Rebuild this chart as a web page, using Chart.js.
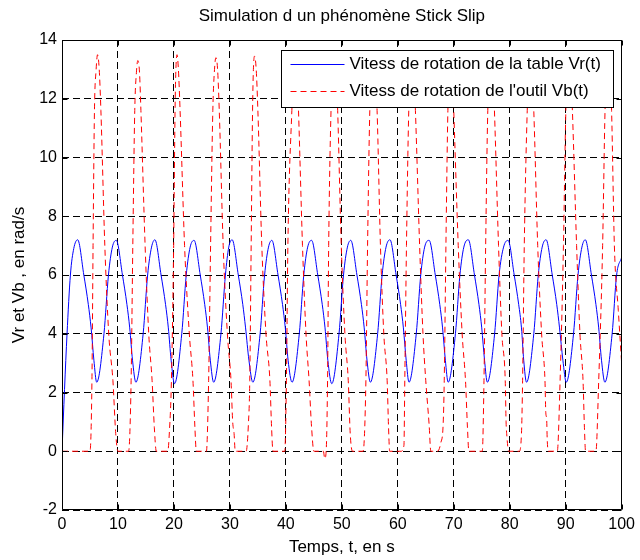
<!DOCTYPE html>
<html>
<head>
<meta charset="utf-8">
<title>Simulation d un phénomène Stick Slip</title>
<script src="https://cdn.jsdelivr.net/npm/chart.js@4.4.0/dist/chart.umd.min.js"></script>
<style>
  html, body { margin: 0; padding: 0; background: #fff; }
  #wrap { width: 640px; height: 560px; }
</style>
</head>
<body>
<div id="wrap"><canvas id="stickSlipChart" width="640" height="560"></canvas></div>
<script>
// values (t in s, speeds in rad/s)
const chartTitle = 'Simulation d un phénomène Stick Slip';
const xAxisTitle = 'Temps, t, en s';
const yAxisTitle = 'Vr et Vb , en rad/s';
const seriesLabels = ['Vitess de rotation de la table Vr(t)', "Vitess de rotation de l'outil Vb(t)"];
const xTickValues = [0, 10, 20, 30, 40, 50, 60, 70, 80, 90, 100];
const yTickValues = [-2, 0, 2, 4, 6, 8, 10, 12, 14];

// Vr(t) - table
const tableTime = [
  0, 0.45, 0.9, 1.5, 2.1, 2.8, 3.9, 4.7, 5.2, 5.7, 6.2,
  7.5, 8.3, 9.0, 9.7, 10.8, 11.6, 12.1, 12.6, 13.2,
  14.5, 15.3, 16.0, 16.6, 17.7, 18.5, 19.0, 19.5, 20.1,
  21.4, 22.2, 22.9, 23.6, 24.7, 25.5, 26.0, 26.5, 27.1,
  28.4, 29.2, 29.8, 30.4, 31.5, 32.3, 32.8, 33.4, 34.1,
  35.4, 36.2, 36.9, 37.5, 38.6, 39.4, 39.9, 40.4, 41.1,
  42.4, 43.2, 43.9, 44.6, 45.7, 46.5, 47.0, 47.5, 48.2,
  49.5, 50.3, 51.0, 51.6, 52.7, 53.5, 54.0, 54.5, 55.1,
  56.4, 57.2, 57.9, 58.6, 59.7, 60.5, 61.0, 61.5, 62.0,
  63.3, 64.1, 64.8, 65.6, 66.7, 67.5, 68.0, 68.5, 69.0,
  70.3, 71.1, 71.8, 72.6, 73.7, 74.5, 75.0, 75.5, 76.0,
  77.3, 78.1, 78.9, 79.7, 80.8, 81.6, 82.1, 82.5, 83.0,
  84.3, 85.1, 85.8, 86.5, 87.6, 88.4, 88.9, 89.5, 90.1,
  91.4, 92.2, 92.9, 93.5, 94.6, 95.4, 95.9, 96.4, 97.0,
  98.3, 99.1, 100
];
const tableSpeed = [
  0, 2.1, 4.0, 6.0, 6.9, 7.2, 6.0, 5.0, 4.2, 3.1, 2.35,
  4.0, 6.0, 6.95, 7.18, 6.0, 5.0, 4.2, 3.1, 2.35,
  4.0, 6.0, 6.95, 7.2, 6.0, 5.0, 4.2, 3.1, 2.3,
  4.0, 6.0, 6.95, 7.18, 6.0, 5.0, 4.2, 3.1, 2.35,
  4.0, 6.0, 6.95, 7.2, 6.0, 5.0, 4.2, 3.1, 2.35,
  4.0, 6.0, 6.95, 7.18, 6.0, 5.0, 4.2, 3.1, 2.35,
  4.0, 6.0, 6.95, 7.18, 6.0, 5.0, 4.2, 3.1, 2.3,
  4.0, 6.0, 6.95, 7.18, 6.0, 5.0, 4.2, 3.1, 2.35,
  4.0, 6.0, 6.95, 7.2, 6.0, 5.0, 4.2, 3.1, 2.35,
  4.0, 6.0, 6.95, 7.18, 6.0, 5.0, 4.2, 3.1, 2.35,
  4.0, 6.0, 6.95, 7.2, 6.0, 5.0, 4.2, 3.1, 2.35,
  4.0, 6.0, 6.95, 7.18, 6.0, 5.0, 4.2, 3.1, 2.35,
  4.0, 6.0, 6.95, 7.2, 6.0, 5.0, 4.2, 3.1, 2.35,
  4.0, 6.0, 6.95, 7.2, 6.0, 5.0, 4.2, 3.1, 2.35,
  4.0, 6.0, 6.6
];

// Vb(t) - tool (stick phases sit at 0)
const toolTime = [
  0,
  5.0, 5.35, 5.55, 5.8, 6.1, 6.35, 6.65, 6.95, 7.65, 8.35, 9.1, 9.6, 10.0,
  11.9, 12.35, 12.65, 13.0, 13.3, 13.55, 13.85, 14.1, 14.85, 15.5, 16.1, 16.5, 16.85,
  18.9, 19.2, 19.55, 19.95, 20.2, 20.35, 20.55, 20.8, 21.1, 21.9, 22.75, 23.4, 23.75, 24.0,
  25.8, 26.2, 26.55, 26.95, 27.25, 27.5, 27.8, 28.1, 28.8, 29.55, 30.2, 30.5, 30.75, 30.95,
  32.9, 33.3, 33.55, 33.8, 34.05, 34.2, 34.4, 34.7, 35.0, 35.7, 36.45, 37.15, 37.45, 37.7,
  39.8, 40.1, 40.36, 41.07, 41.4, 41.7, 42.0, 42.26, 42.97, 43.6, 44.15, 44.6, 45.0,
  46.7, 46.95, 47.2, 47.45, 47.65, 48.07, 48.4, 48.7, 49.0, 49.26, 49.9, 50.55, 51.15, 51.5, 51.9,
  53.8, 54.3, 54.6, 55.0, 55.35, 55.65, 55.95, 56.3, 56.9, 57.5, 58.1, 58.35, 58.55,
  60.6, 61.1, 61.25, 61.55, 61.96, 62.3, 62.55, 62.85, 63.15, 63.9, 64.5, 65.0, 65.6, 65.9,
  67.1, 67.7, 68.1, 68.3, 68.6, 68.95, 69.25, 69.5, 69.75, 70.0, 70.8, 71.5, 72.1, 72.45, 72.7,
  75.1, 75.4, 75.7, 76.08, 76.45, 76.7, 77.0, 77.27, 78.0, 78.6, 79.2, 79.35, 79.5, 79.8,
  81.7, 82.1, 82.3, 82.6, 83.13, 83.45, 83.7, 84.0, 84.3, 85.0, 85.7, 86.3, 86.45, 86.6, 86.7, 86.9,
  88.5, 89.0, 89.6, 90.03, 90.35, 90.6, 90.9, 91.2, 91.95, 92.55, 93.1, 93.35, 93.55,
  95.4, 95.9, 96.6, 97.03, 97.35, 97.6, 97.9, 98.2, 98.7, 99.4, 100
];
const toolSpeed = [
  0,
  0, 2.4, 7.0, 11.6, 13.0, 13.5, 13.0, 11.6, 7.0, 4.0, 2.4, 0.6, 0,
  0, 2.4, 7.0, 11.6, 12.9, 13.3, 12.9, 11.6, 7.0, 4.0, 2.4, 0.8, 0,
  0, 0.7, 2.4, 7.0, 11.6, 13.0, 13.5, 13.0, 11.6, 7.0, 4.0, 2.4, 0.8, 0,
  0, 2.4, 7.0, 11.6, 13.0, 13.4, 13.0, 11.6, 7.0, 4.0, 2.4, 1.0, 0.6, 0,
  0, 0.9, 2.4, 7.0, 11.6, 13.0, 13.45, 13.0, 11.6, 7.0, 4.0, 2.4, 0.8, 0,
  0, 2.4, 7.0, 11.6, 13.0, 13.4, 13.0, 11.6, 7.0, 4.0, 2.4, 0.8, 0,
  0, -0.25, 0, 2.4, 7.0, 11.6, 13.0, 13.4, 13.0, 11.6, 7.0, 4.0, 2.4, 0.6, 0,
  0, 2.4, 7.0, 11.6, 13.0, 13.4, 13.0, 11.6, 7.0, 4.0, 2.4, 0.8, 0,
  0, 0.2, 2.4, 7.0, 11.6, 13.0, 13.4, 13.0, 11.6, 7.0, 4.0, 2.4, 0.9, 0,
  0, 0.3, 0.9, 2.4, 7.0, 11.6, 13.0, 13.4, 13.0, 11.6, 7.0, 4.0, 2.4, 0.8, 0,
  0, 2.4, 7.0, 11.6, 13.0, 13.4, 13.0, 11.6, 7.0, 4.0, 2.4, 1.0, 0.5, 0,
  0, 0.6, 2.4, 7.0, 11.6, 13.0, 13.4, 13.0, 11.6, 7.0, 4.0, 2.4, 1.3, 1.1, 0.4, 0,
  0, 2.4, 7.0, 11.6, 13.0, 13.4, 13.0, 11.6, 7.0, 4.0, 2.4, 0.8, 0,
  0, 2.4, 7.0, 11.6, 13.0, 13.4, 13.0, 11.6, 7.0, 4.8, 3.0
];

const FONT = '"Liberation Sans", Arial, Helvetica, sans-serif';
Chart.defaults.font.family = FONT;
Chart.defaults.color = '#000';

function toPoints(xs, ys) {
  return xs.map((x, i) => ({ x: x, y: ys[i] }));
}

function crisp(v) {
  return Math.round(v) + 0.5;
}

// axes box with inward ticks, then the boxed legend on top (matlab look)
const matlabFrame = {
  id: 'matlabFrame',
  afterDatasetsDraw(chart) {
    const ctx = chart.ctx;
    const a = chart.chartArea;
    const xs = chart.scales.x;
    const ys = chart.scales.y;
    const L = crisp(a.left), R = crisp(a.right) - 1, T = crisp(a.top), B = crisp(a.bottom) - 1;

    ctx.save();
    ctx.setLineDash([]);
    ctx.strokeStyle = '#000';
    ctx.lineWidth = 1;
    ctx.beginPath();
    ctx.rect(L, T, R - L, B - T);
    xTickValues.forEach(v => {
      const px = crisp(xs.getPixelForValue(v));
      ctx.moveTo(px, B); ctx.lineTo(px, B - 5);
      ctx.moveTo(px, T); ctx.lineTo(px, T + 5);
    });
    yTickValues.forEach(v => {
      const py = crisp(ys.getPixelForValue(v));
      ctx.moveTo(L, py); ctx.lineTo(L + 5, py);
      ctx.moveTo(R, py); ctx.lineTo(R - 5, py);
    });
    ctx.stroke();

    // legend
    ctx.font = '17px ' + FONT;
    const textW = Math.max(...chart.data.datasets.map(d => ctx.measureText(d.label).width));
    const boxW = Math.round(9 + 54 + 5 + textW + 13);
    const boxH = 57;
    const bx = Math.round(a.right - 9 - boxW) + 0.5;
    const by = Math.round(a.top + 10) + 0.5;
    ctx.fillStyle = '#fff';
    ctx.fillRect(bx, by, boxW, boxH);
    ctx.strokeRect(bx, by, boxW, boxH);

    chart.data.datasets.forEach((d, i) => {
      const cy = Math.round(by + 13 + i * 27.5) + 0.5;
      ctx.strokeStyle = d.borderColor;
      ctx.lineWidth = d.borderWidth;
      ctx.setLineDash(d.borderDash || []);
      ctx.beginPath();
      ctx.moveTo(bx + 9, cy);
      ctx.lineTo(bx + 63, cy);
      ctx.stroke();
      ctx.fillStyle = '#000';
      ctx.textAlign = 'left';
      ctx.textBaseline = 'middle';
      ctx.fillText(d.label, bx + 68, cy);
    });
    ctx.restore();
  }
};

const chart = new Chart(document.getElementById('stickSlipChart').getContext('2d'), {
  type: 'line',
  data: {
    datasets: [
      {
        label: seriesLabels[0],
        data: toPoints(tableTime, tableSpeed),
        borderColor: '#0000ff',
        borderWidth: 1,
        pointRadius: 0,
        cubicInterpolationMode: 'monotone',
        order: 1
      },
      {
        label: seriesLabels[1],
        data: toPoints(toolTime, toolSpeed),
        borderColor: '#ff0000',
        borderWidth: 1,
        borderDash: [6, 4],
        pointRadius: 0,
        cubicInterpolationMode: 'monotone',
        order: 0
      }
    ]
  },
  options: {
    responsive: false,
    animation: false,
    layout: { padding: { top: 0, right: 14, bottom: 0, left: 0 } },
    scales: {
      x: {
        type: 'linear',
        min: 0,
        max: 100,
        afterBuildTicks: s => { s.ticks = xTickValues.map(v => ({ value: v })); },
        afterFit: s => { s.height = 50; },
        ticks: { font: { size: 16 }, color: '#000', padding: 5, maxRotation: 0 },
        grid: { color: '#000', lineWidth: 1, drawTicks: false },
        border: { display: false, dash: [7, 4] },
        title: { display: true, text: xAxisTitle, font: { size: 17 }, color: '#000', padding: { top: 0, bottom: 2 } }
      },
      y: {
        min: -2,
        max: 14,
        afterBuildTicks: s => { s.ticks = yTickValues.map(v => ({ value: v })); },
        afterFit: s => { s.width = 62; },
        ticks: { font: { size: 16 }, color: '#000', padding: 5 },
        grid: { color: '#000', lineWidth: 1, drawTicks: false },
        border: { display: false, dash: [7, 4] },
        title: { display: true, text: yAxisTitle, font: { size: 17 }, color: '#000', padding: { top: 9, bottom: 0 } }
      }
    },
    plugins: {
      legend: { display: false },
      tooltip: { enabled: false },
      title: {
        display: true,
        fullSize: false,
        text: chartTitle,
        color: '#000',
        font: { size: 17, weight: 'normal' },
        padding: { top: 6, bottom: 13.6 }
      }
    }
  },
  plugins: [matlabFrame]
});
</script>
</body>
</html>
